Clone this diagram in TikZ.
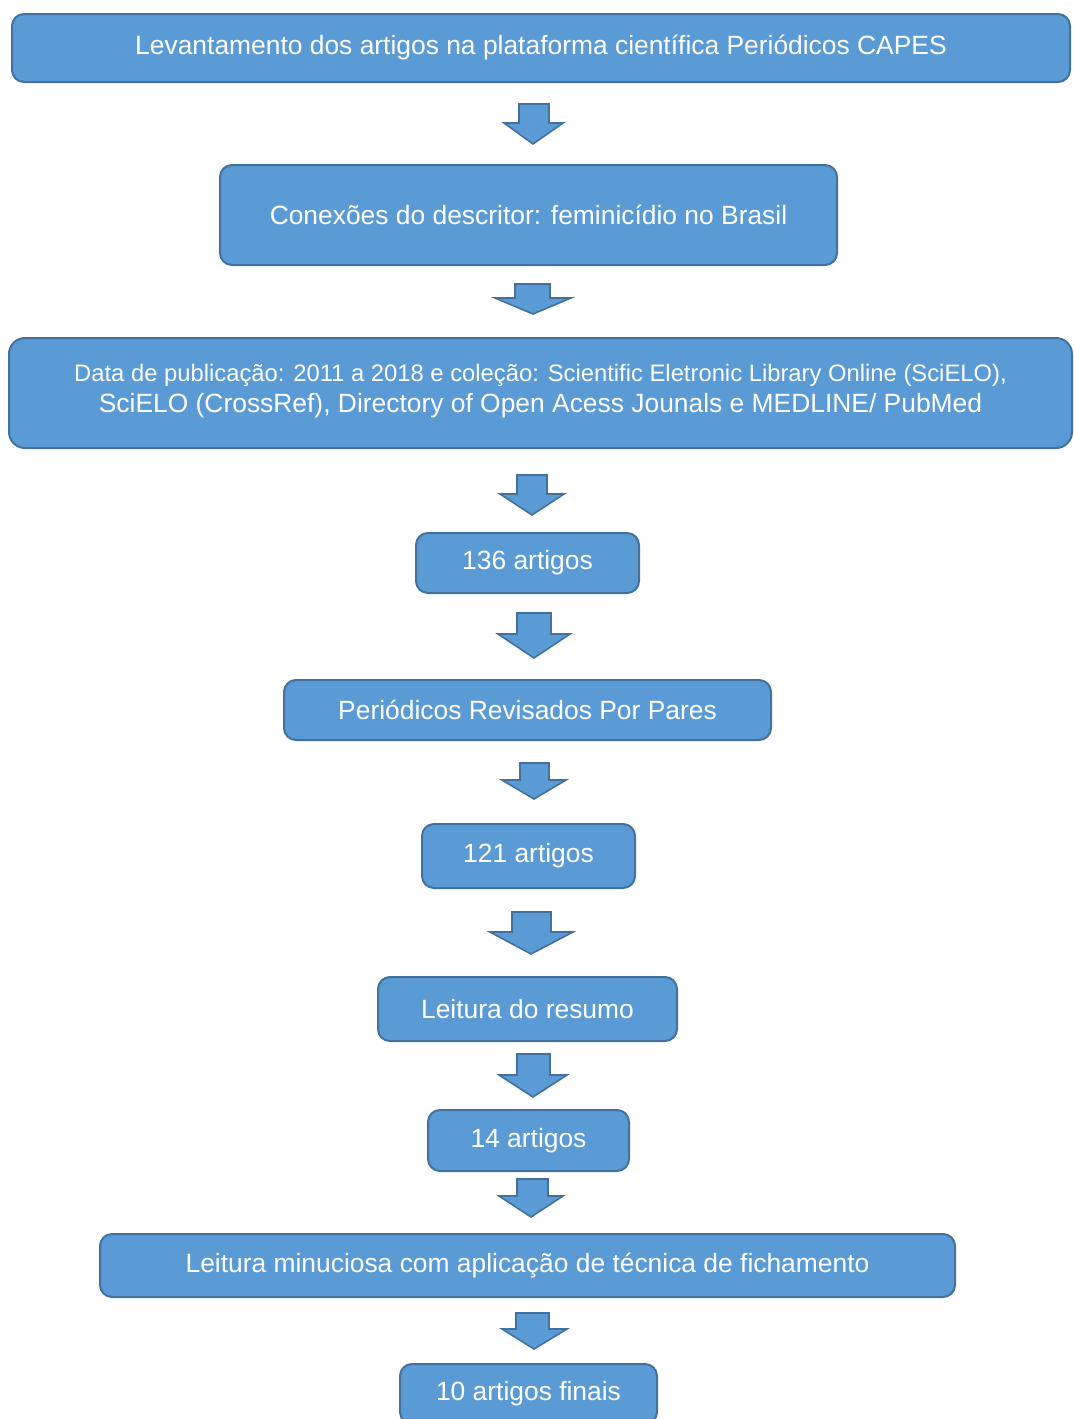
\documentclass[tikz,border=0pt]{standalone}
\usepackage{fontspec}
\setmainfont{Liberation Sans}
\definecolor{boxfill}{HTML}{5B9BD5}
\definecolor{boxline}{HTML}{41719C}
\tikzset{
  stepbox/.style={draw=boxline, fill=boxfill, line width=1pt, rounded corners=6pt,
    text=white, inner sep=0pt, align=center, font=\fontsize{13.2}{15.5}\selectfont},
  blockarrow/.style={draw=boxline, fill=boxfill, line width=0.8pt, line join=miter}
}
\begin{document}
\begin{tikzpicture}[x=0.5pt,y=-0.5pt]
\useasboundingbox (0,0) rectangle (1073,1419);
% etapas
\node[stepbox, minimum width=529pt, minimum height=34pt] (capes) at (541,48)
  {Levantamento dos artigos na plataforma científica Periódicos CAPES};
\node[stepbox, minimum width=308.5pt, minimum height=50pt] (descritor) at (528.5,215)
  {Conexões do descritor: feminicídio no Brasil};
\node[stepbox, minimum width=531.5pt, minimum height=55pt, rounded corners=8pt] (colecao) at (540.5,393)
  {{\fontsize{11.9}{15.5}\selectfont Data de publicação: 2011 a 2018 e coleção: Scientific Eletronic Library Online (SciELO),}\\
   SciELO (CrossRef), Directory of Open Acess Jounals e MEDLINE/ PubMed\rule[-5pt]{0pt}{5pt}};
\node[stepbox, minimum width=111.5pt, minimum height=30pt] (n136) at (527.5,563) {136 artigos};
\node[stepbox, minimum width=243.5pt, minimum height=30pt] (pares) at (527.5,710) {Periódicos Revisados Por Pares};
\node[stepbox, minimum width=106.5pt, minimum height=32pt] (n121) at (528.5,856) {121 artigos};
\node[stepbox, minimum width=149.5pt, minimum height=32pt] (resumo) at (527.5,1009) {Leitura do resumo};
\node[stepbox, minimum width=100.5pt, minimum height=30.5pt] (n14) at (528.5,1140.5) {14 artigos};
\node[stepbox, minimum width=427.5pt, minimum height=31.5pt] (fichamento) at (527.5,1265.5)
  {Leitura minuciosa com aplicação de técnica de fichamento};
\node[stepbox, minimum width=128.5pt, minimum height=30pt] (finais) at (528.5,1394) {10 artigos finais};
% setas em bloco
\foreach \sl/\sr/\t/\w/\wl/\wr/\ty/\tx in {
  519/549/104/123/504/563/144/533,
  515/550/284/298/495/571/314/533,
  517/547/475/494/500/564/515/532,
  517/551/613/634/498/570/658/534,
  520/549/763/780/502/566/799/534,
  512/551/912/932/490/573/954/531,
  517/550/1054/1075/499/567/1097/533,
  517/548/1179/1196/499/563/1217/531,
  516/549/1313/1329/502/567/1349/534}
  \draw[blockarrow] (\sl,\t) -- (\sr,\t) -- (\sr,\w) -- (\wr,\w) -- (\tx,\ty)
    -- (\wl,\w) -- (\sl,\w) -- cycle;
\end{tikzpicture}
\end{document}
